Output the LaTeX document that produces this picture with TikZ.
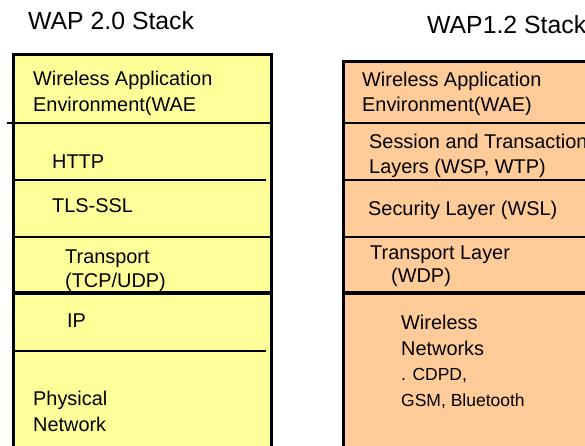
\documentclass[tikz,border=0pt]{standalone}
\usepackage{fontspec}
\setmainfont{Liberation Sans}
\definecolor{wapyellow}{HTML}{FFFF99}
\definecolor{waporange}{HTML}{FFCC99}
\begin{document}
\begin{tikzpicture}[x=1pt,y=-1pt,
  boxline/.style={line width=3pt},
  divline/.style={line width=2.6pt},
  thickdiv/.style={line width=3.8pt},
  title/.style={anchor=base west, inner sep=0pt, font=\fontsize{24.8}{29}\selectfont},
  lbl/.style={anchor=base west, inner sep=0pt, font=\fontsize{19.9}{24}\selectfont},
  small/.style={anchor=base west, inner sep=0pt, font=\fontsize{17.5}{21}\selectfont}]
\useasboundingbox (0,0) rectangle (585,445);
\begin{scope}
\clip (0,0) rectangle (585,445);
% left stack
\filldraw[fill=wapyellow, boxline] (13.5,54.5) rectangle (271.5,470);
\draw[divline] (7,123) -- (271.5,123);
\draw[divline] (13.5,180) -- (266,180);
\draw[divline] (13.5,237) -- (271.5,237);
\draw[thickdiv] (13.5,293) -- (271.5,293);
\draw[divline] (13.5,351) -- (266,351);
% right stack
\filldraw[fill=waporange, boxline] (343.5,61.5) rectangle (610,470);
\draw[divline] (343.5,123) -- (610,123);
\draw[divline] (343.5,180) -- (610,180);
\draw[divline] (343.5,237) -- (610,237);
\draw[thickdiv] (343.5,293) -- (610,293);
% titles
\node[title] (t2) at (28,29) {WAP 2.0 Stack};
\node[title] (t1) at (427,33) {WAP1.2 Stack};
% left labels
\node[lbl] (lwae1) at (33,85) {Wireless Application};
\node[lbl] (lwae2) at (33,111) {Environment(WAE};
\node[lbl] (lhttp) at (52,168) {HTTP};
\node[lbl] (ltls) at (52,212) {TLS-SSL};
\node[lbl] (ltr1) at (65,263) {Transport};
\node[lbl] (ltr2) at (65,287) {(TCP/UDP)};
\node[lbl] (lip) at (67,327) {IP};
\node[lbl] (lph1) at (33,405) {Physical};
\node[lbl] (lph2) at (33,431) {Network};
% right labels
\node[lbl] (rwae1) at (362,86) {Wireless Application};
\node[lbl] (rwae2) at (362,111) {Environment(WAE)};
\node[lbl] (rses1) at (369,148) {Session and Transaction};
\node[lbl] (rses2) at (369,173) {Layers (WSP, WTP)};
\node[lbl] (rsec) at (368,215) {Security Layer (WSL)};
\node[lbl] (rtr1) at (370,259) {Transport Layer};
\node[lbl] (rtr2) at (391,282) {(WDP)};
\node[lbl] (rw1) at (401,329) {Wireless};
\node[lbl] (rw2) at (401,355) {Networks};
\node[small] (rw3) at (401,380) {. CDPD,};
\node[small] (rw4) at (401,406) {GSM, Bluetooth};
\end{scope}
\end{tikzpicture}
\end{document}
